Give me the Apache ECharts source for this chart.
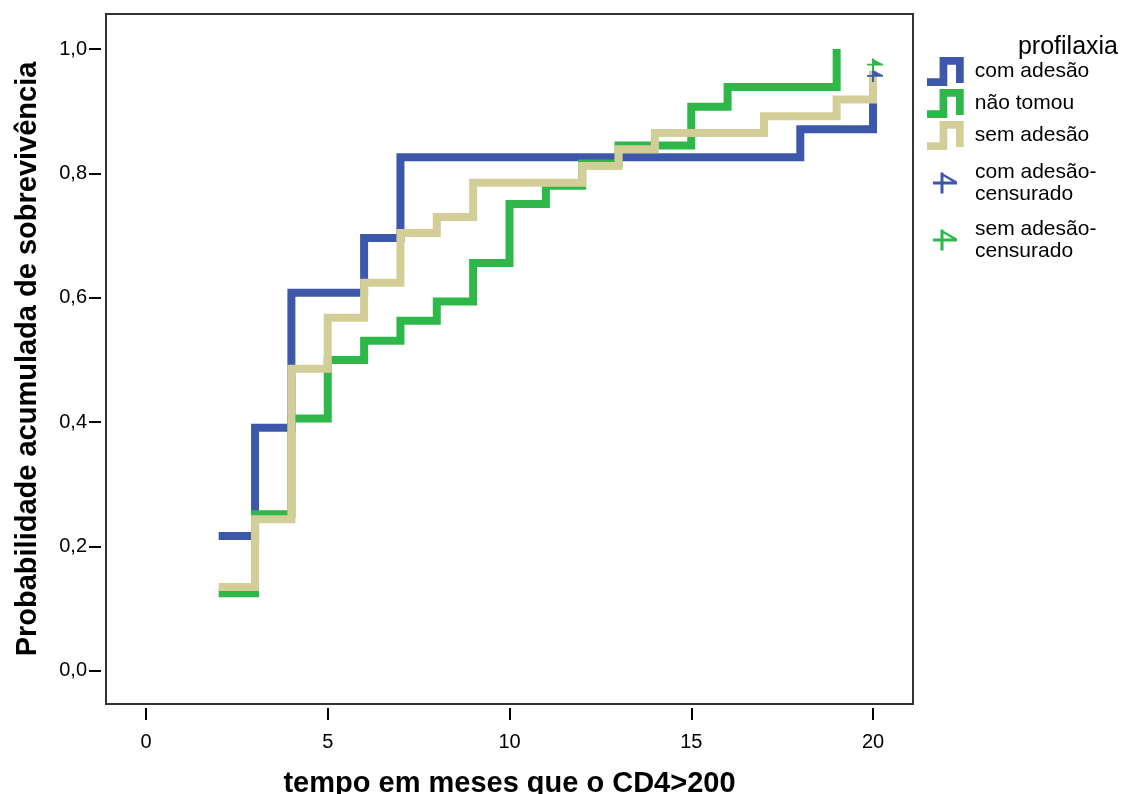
<!DOCTYPE html>
<html>
<head>
<meta charset="utf-8">
<script src="https://cdn.jsdelivr.net/npm/echarts@6/dist/echarts.min.js"></script>
<style>
  html, body { margin: 0; padding: 0; background: #fff; }
  #chart { width: 1125px; height: 794px; }
</style>
</head>
<body>
<div id="chart"></div>
<script>
// ---- data ----
const xTicks = [0, 5, 10, 15, 20];
const yTicks = [0, 0.2, 0.4, 0.6, 0.8, 1.0];

const comAdesaoT = [2, 3, 4, 6, 7, 18, 20];
const comAdesaoS = [0.217, 0.391, 0.608, 0.696, 0.826, 0.871, 0.957];

const naoTomouT = [2, 3, 4, 5, 6, 7, 8, 9, 10, 11, 12, 13, 15, 16, 19];
const naoTomouS = [0.125, 0.252, 0.406, 0.500, 0.531, 0.563, 0.594, 0.656, 0.751, 0.780, 0.816, 0.845, 0.907, 0.939, 1.000];

const semAdesaoT = [2, 3, 4, 5, 6, 7, 8, 9, 12, 13, 14, 17, 19, 20];
const semAdesaoS = [0.135, 0.244, 0.486, 0.568, 0.624, 0.704, 0.730, 0.785, 0.812, 0.839, 0.865, 0.892, 0.919, 0.965];

const comAdesaoCensT = [20];
const comAdesaoCensS = [0.957];
const semAdesaoCensT = [20];
const semAdesaoCensS = [0.975];

const seriesNames = ['com adesão', 'não tomou', 'sem adesão', 'com adesão-\ncensurado', 'sem adesão-\ncensurado'];
const legendTitle = 'profilaxia';
const xTitle = 'tempo em meses que o CD4>200';
const yTitle = 'Probabilidade acumulada de sobrevivência';

// ---- styles ----
const BLUE = '#3D58AB';
const GREEN = '#2EB84A';
const BEIGE = '#D3CE97';
const FONT = '"Liberation Sans", Arial, sans-serif';
const STEP_ICON = 'path://M0,22 L13,22 L13,0 L38,0 L38,27 L30,27 L30,8 L21,8 L21,30 L0,30 Z';
// censor mark in the plot: "+" with a small filled flag
const CENS_MARK = 'path://M5,0 L7,0 L7,14 L5,14 Z M0,6 L16,6 L16,8 L0,8 Z M5,0 L16,6.5 L16,8 L5,8 Z';
// censor mark in the legend: "+" with an outlined flag
const CENS_ICON = 'path://M5,0 L7,0 L7,14 L5,14 Z M0,6 L16,6 L16,8 L0,8 Z M5.5,0 L16,6 L16,8 L5.5,1.7 Z';

const zip = (t, s) => t.map((v, i) => [v, s[i]]);

const chart = echarts.init(document.getElementById('chart'), null, { renderer: 'canvas' });

const lineSeries = (name, t, s, color, z) => ({
  name, type: 'line', step: 'end', data: zip(t, s), showSymbol: false, symbol: 'none',
  z, silent: true,
  itemStyle: { color },
  lineStyle: { color, width: 8, cap: 'butt', join: 'miter' }
});

const censSeries = (name, t, s, color) => ({
  name, type: 'scatter', data: zip(t, s), symbol: CENS_MARK, symbolSize: [16, 14],
  symbolKeepAspect: true, symbolOffset: [2, 0], z: 10, silent: true,
  itemStyle: { color, opacity: 1 }
});

chart.setOption({
  animation: false,
  backgroundColor: '#fff',
  textStyle: { fontFamily: FONT },
  title: {
    text: legendTitle, right: 2, top: 30,
    textStyle: { fontSize: 25, fontWeight: 'normal', color: '#000', fontFamily: FONT }
  },
  legend: [
    {
      orient: 'vertical', left: 927, top: 57, padding: 0,
      itemWidth: 37, itemHeight: 29, itemGap: 3,
      icon: STEP_ICON, selectedMode: false,
      data: seriesNames.slice(0, 3),
      textStyle: { fontSize: 21, color: '#000', fontFamily: FONT, padding: [4, 0, 0, 6] }
    },
    {
      orient: 'vertical', left: 933, top: 159, padding: 0,
      itemWidth: 24, itemHeight: 21, itemGap: 9,
      icon: CENS_ICON, selectedMode: false,
      data: seriesNames.slice(3),
      textStyle: { fontSize: 21, lineHeight: 22, color: '#000', fontFamily: FONT, padding: [4, 0, 0, 13] }
    }
  ],
  grid: {
    left: 106, right: 212, top: 14, bottom: 90,
    outerBoundsMode: 'none', containLabel: false,
    show: true, borderColor: '#333', borderWidth: 2, backgroundColor: 'transparent'
  },
  xAxis: {
    type: 'value', min: -1.1, max: 21.1, offset: 4, position: 'bottom',
    axisLine: { show: false, onZero: false },
    axisTick: { show: true, length: 12, lineStyle: { color: '#000', width: 2 }, customValues: xTicks },
    axisLabel: { customValues: xTicks, margin: 24, fontSize: 20, color: '#000', fontFamily: FONT },
    splitLine: { show: false },
    name: xTitle, nameLocation: 'middle', nameGap: 61,
    nameTextStyle: { fontSize: 29, fontWeight: 'bold', color: '#000', fontFamily: FONT }
  },
  yAxis: {
    type: 'value', min: -0.0531, max: 1.0563, offset: 5, position: 'left',
    axisLine: { show: false, onZero: false },
    axisTick: { show: true, length: 12, lineStyle: { color: '#000', width: 2 }, customValues: yTicks },
    axisLabel: {
      customValues: yTicks, margin: 14, fontSize: 20, color: '#000', fontFamily: FONT,
      formatter: v => v.toFixed(1).replace('.', ',')
    },
    splitLine: { show: false },
    name: yTitle, nameLocation: 'middle', nameGap: 59,
    nameTextStyle: { fontSize: 29, fontWeight: 'bold', color: '#000', fontFamily: FONT }
  },
  series: [
    lineSeries(seriesNames[0], comAdesaoT, comAdesaoS, BLUE, 2),
    lineSeries(seriesNames[1], naoTomouT, naoTomouS, GREEN, 3),
    lineSeries(seriesNames[2], semAdesaoT, semAdesaoS, BEIGE, 4),
    censSeries(seriesNames[3], comAdesaoCensT, comAdesaoCensS, BLUE),
    censSeries(seriesNames[4], semAdesaoCensT, semAdesaoCensS, GREEN)
  ]
});
</script>
</body>
</html>
